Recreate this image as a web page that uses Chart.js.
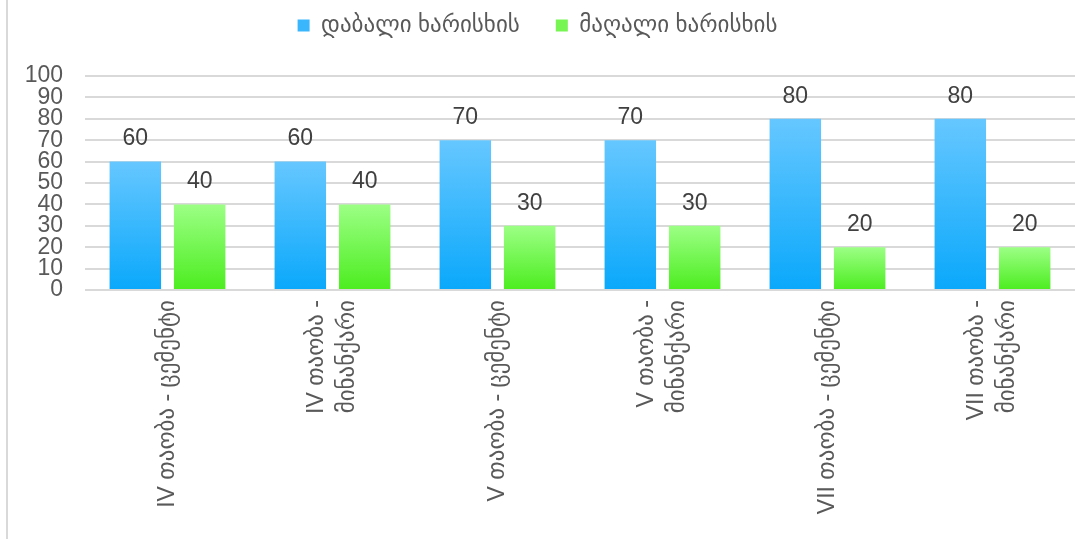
<!DOCTYPE html>
<html>
<head>
<meta charset="utf-8">
<script src="https://cdn.jsdelivr.net/npm/chart.js@4.4.1/dist/chart.umd.min.js"></script>
<style>
  html, body { margin: 0; padding: 0; background: #fff; }
  #wrap { position: relative; width: 1090px; height: 539px; }
  #edge { position: absolute; left: 6px; top: 0; width: 2px; height: 539px; background: #d9d9d9; }
</style>
</head>
<body>
<div id="wrap">
  <canvas id="bar-chart" width="1090" height="539"></canvas>
  <div id="edge"></div>
</div>
<script>
const categories = [
    'IV თაობა - ცემენტი',
    ['IV თაობა -', 'მინანქარი'],
    'V თაობა - ცემენტი',
    ['V თაობა -', 'მინანქარი'],
    'VII თაობა - ცემენტი',
    ['VII თაობა -', 'მინანქარი']
];
const lowGrade = [60, 60, 70, 70, 80, 80];
const highGrade = [40, 40, 30, 30, 20, 20];
const seriesNames = ['დაბალი ხარისხის', 'მაღალი ხარისხის'];

const FONT = "'Liberation Sans', 'DejaVu Sans', sans-serif";
const TEXT = '#595959';
const SIZE = 23;

// vertical gradient per bar, light on top
function barFill(top, bottom, fallback) {
    return (c) => {
        const chart = c.chart;
        const y = chart.scales.y;
        if (!chart.chartArea || !y || c.raw === undefined) return fallback;
        const y0 = y.getPixelForValue(c.raw);
        const y1 = y.getPixelForValue(0);
        if (!isFinite(y0) || !isFinite(y1) || y0 === y1) return fallback;
        const g = chart.ctx.createLinearGradient(0, y0, 0, y1);
        g.addColorStop(0, top);
        g.addColorStop(1, bottom);
        return g;
    };
}

// value printed above each bar
const valueLabels = {
    id: 'valueLabels',
    afterDatasetsDraw(chart) {
        const ctx = chart.ctx;
        ctx.save();
        ctx.font = SIZE + 'px ' + FONT;
        ctx.fillStyle = '#404040';
        ctx.textAlign = 'center';
        ctx.textBaseline = 'bottom';
        chart.data.datasets.forEach((ds, i) => {
            chart.getDatasetMeta(i).data.forEach((bar, j) => {
                ctx.fillText(ds.data[j], bar.x, bar.y - 11);
            });
        });
        ctx.restore();
    }
};

// category names, turned upright; wrapped names are centred on the tick
const categoryLabels = {
    id: 'categoryLabels',
    afterDraw(chart) {
        const scale = chart.scales.x;
        const ctx = chart.ctx;
        const lineGap = 31;
        ctx.save();
        ctx.font = SIZE + 'px ' + FONT;
        ctx.fillStyle = TEXT;
        ctx.textAlign = 'right';
        ctx.textBaseline = 'middle';
        categories.forEach((label, i) => {
            const lines = Array.isArray(label) ? label : [label];
            ctx.save();
            ctx.translate(scale.getPixelForTick(i), scale.top + 10);
            ctx.rotate(-Math.PI / 2);
            lines.forEach((line, j) => {
                ctx.fillText(line, 0, (j - (lines.length - 1) / 2) * lineGap);
            });
            ctx.restore();
        });
        ctx.restore();
    }
};

const ctx = document.getElementById('bar-chart').getContext('2d');

const barChart = new Chart(ctx, {
    type: 'bar',
    data: {
        labels: categories,
        datasets: [{
            label: seriesNames[0],
            data: lowGrade,
            backgroundColor: barFill('#66c7ff', '#0aa8fb', '#3ab6fd'),
            categoryPercentage: 0.78,
            barPercentage: 0.8
        }, {
            label: seriesNames[1],
            data: highGrade,
            backgroundColor: barFill('#9cff85', '#4ced1f', '#77f552'),
            categoryPercentage: 0.78,
            barPercentage: 0.8
        }]
    },
    plugins: [valueLabels, categoryLabels],
    options: {
        responsive: false,
        animation: false,
        layout: { padding: { left: 0, right: 15, top: -22, bottom: 0 } },
        plugins: {
            legend: {
                position: 'top',
                weight: 3000,
                labels: {
                    boxWidth: 12,
                    boxHeight: 12,
                    padding: 36,
                    color: TEXT,
                    font: { family: FONT, size: SIZE },
                    generateLabels(chart) {
                        const fills = ['#3ab6fd', '#77f552'];
                        return chart.data.datasets.map((ds, i) => ({
                            text: ds.label,
                            fillStyle: fills[i],
                            strokeStyle: fills[i],
                            lineWidth: 0,
                            fontColor: TEXT,
                            datasetIndex: i
                        }));
                    }
                }
            },
            // empty title used as a gap between legend and plot
            title: {
                display: true,
                text: '',
                font: { size: 10, lineHeight: 1 },
                padding: { top: 10, bottom: 9 }
            },
            tooltip: { enabled: false }
        },
        scales: {
            x: {
                grid: { display: false },
                border: { display: false },
                ticks: { display: false },
                afterFit(scale) { scale.height = 249; }
            },
            y: {
                min: 0,
                max: 100,
                grid: { color: '#d9d9d9', lineWidth: 2, drawTicks: false },
                border: { display: false },
                ticks: {
                    stepSize: 10,
                    autoSkip: false,
                    padding: 22,
                    color: TEXT,
                    font: { family: FONT, size: SIZE }
                },
                afterFit(scale) { scale.width = 85; }
            }
        }
    }
});
</script>
</body>
</html>
